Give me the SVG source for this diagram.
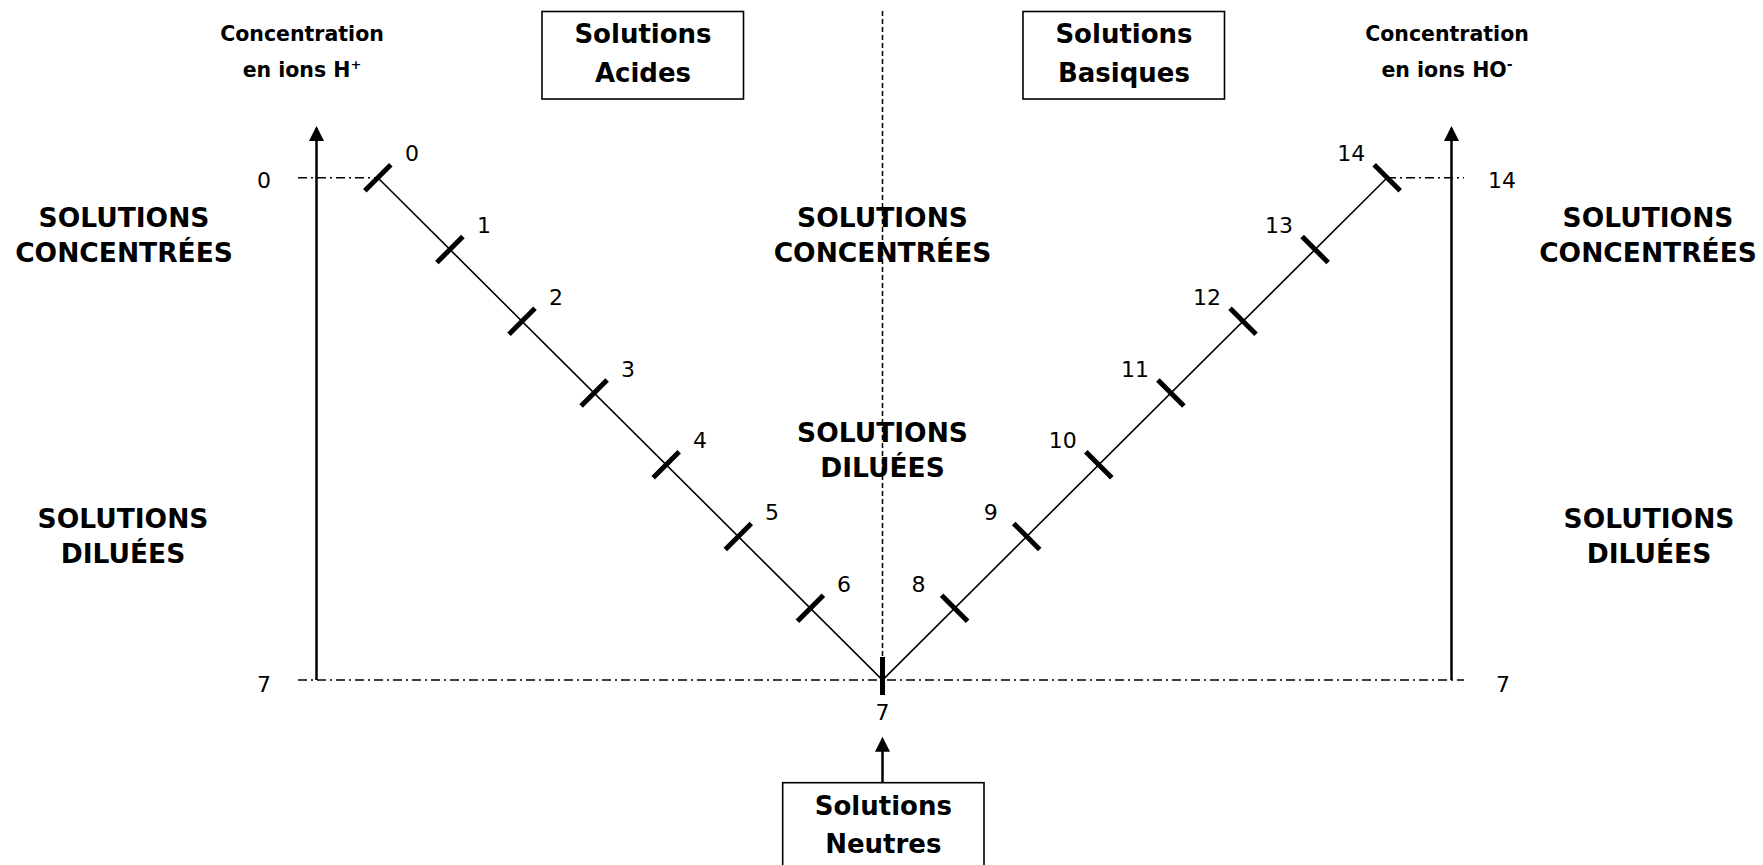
<svg xmlns="http://www.w3.org/2000/svg" width="1763" height="865" viewBox="0 0 1763 865">
<style>
.big{font-family:"DejaVu Sans","Liberation Sans",sans-serif;font-weight:bold;font-size:26px;text-anchor:middle;fill:#000}
.cap{font-family:"DejaVu Sans","Liberation Sans",sans-serif;font-weight:bold;font-size:26.5px;text-anchor:middle;fill:#000}
.ax{font-family:"DejaVu Sans","Liberation Sans",sans-serif;font-weight:bold;font-size:20.5px;text-anchor:middle;fill:#000}
.num{font-family:"DejaVu Sans","Liberation Sans",sans-serif;font-size:22px;text-anchor:middle;fill:#000}
.box{fill:#fff;stroke:#000;stroke-width:1.6}
.axis{stroke:#000;stroke-width:2.5;fill:none}
.diag{stroke:#000;stroke-width:1.6;fill:none}
.tick{stroke:#000;stroke-width:5;fill:none}
.dd{stroke:#000;stroke-width:1.5;stroke-dasharray:9 4 2 4;fill:none}
.dash{stroke:#000;stroke-width:1.5;stroke-dasharray:5 3;fill:none}
</style>
<defs>
<marker id="ah" markerWidth="6" markerHeight="6" refX="5" refY="3" orient="auto" markerUnits="strokeWidth">
<path d="M0,0 L6,3 L0,6 Z" fill="#000"/>
</marker>
</defs>
<rect width="1763" height="865" fill="#fff"/>

<g id="connectors">
<line class="dash" x1="882.5" y1="11" x2="882.5" y2="657"/>
<line class="dd" x1="298" y1="177.7" x2="378" y2="177.7"/>
<line class="dd" x1="1387" y1="177.7" x2="1464" y2="177.7"/>
<line class="dd" x1="298" y1="680" x2="1464" y2="680"/>
<line class="axis" x1="316.5" y1="680" x2="316.5" y2="128.5" marker-end="url(#ah)"/>
<line class="axis" x1="1451.5" y1="680" x2="1451.5" y2="128.5" marker-end="url(#ah)"/>
<line class="axis" x1="882.5" y1="782.7" x2="882.5" y2="739.2" marker-end="url(#ah)"/>
<polyline class="diag" points="377.8,177.7 882.5,680 1387.2,177.7"/>
</g>

<g id="ticks">
<line class="tick" x1="364.8" y1="190.7" x2="390.8" y2="164.7"/>
<line class="tick" x1="436.9" y1="262.5" x2="462.9" y2="236.5"/>
<line class="tick" x1="509" y1="334.2" x2="535" y2="308.2"/>
<line class="tick" x1="581.1" y1="406" x2="607.1" y2="380"/>
<line class="tick" x1="653.2" y1="477.7" x2="679.2" y2="451.7"/>
<line class="tick" x1="725.3" y1="549.5" x2="751.3" y2="523.5"/>
<line class="tick" x1="797.4" y1="621.2" x2="823.4" y2="595.2"/>
<line class="tick" x1="882.5" y1="657" x2="882.5" y2="695"/>
<line class="tick" x1="941.6" y1="595.2" x2="967.6" y2="621.2"/>
<line class="tick" x1="1013.7" y1="523.5" x2="1039.7" y2="549.5"/>
<line class="tick" x1="1085.8" y1="451.7" x2="1111.8" y2="477.7"/>
<line class="tick" x1="1157.9" y1="380" x2="1183.9" y2="406"/>
<line class="tick" x1="1230" y1="308.2" x2="1256" y2="334.2"/>
<line class="tick" x1="1302.1" y1="236.5" x2="1328.1" y2="262.5"/>
<line class="tick" x1="1374.2" y1="164.7" x2="1400.2" y2="190.7"/>
</g>

<g id="tick-labels">
<text class="num" x="412" y="161">0</text>
<text class="num" x="484" y="233">1</text>
<text class="num" x="556" y="305">2</text>
<text class="num" x="628" y="377">3</text>
<text class="num" x="700" y="448">4</text>
<text class="num" x="772" y="520">5</text>
<text class="num" x="844" y="592">6</text>
<text class="num" x="882.5" y="720">7</text>
<text class="num" x="918.6" y="592">8</text>
<text class="num" x="990.7" y="520">9</text>
<text class="num" x="1062.8" y="448">10</text>
<text class="num" x="1134.9" y="377">11</text>
<text class="num" x="1207" y="305">12</text>
<text class="num" x="1279.1" y="233">13</text>
<text class="num" x="1351.2" y="161">14</text>
</g>

<g id="axis-left">
<text class="ax" x="302" y="41">Concentration</text>
<text class="ax" x="302" y="77">en ions H<tspan font-size="13" dy="-8">+</tspan></text>
<text class="num" x="264" y="188">0</text>
<text class="num" x="264" y="692">7</text>
</g>

<g id="axis-right">
<text class="ax" x="1447" y="41">Concentration</text>
<text class="ax" x="1447" y="77">en ions HO<tspan font-size="14" dy="-8">-</tspan></text>
<text class="num" x="1502" y="188">14</text>
<text class="num" x="1503" y="692">7</text>
</g>

<g id="box-acides">
<rect class="box" x="542" y="11.5" width="201.5" height="87.5"/>
<text class="big" x="643" y="43">Solutions</text>
<text class="big" x="643" y="82">Acides</text>
</g>

<g id="box-basiques">
<rect class="box" x="1023" y="11.5" width="201.5" height="87.5"/>
<text class="big" x="1124" y="43">Solutions</text>
<text class="big" x="1124" y="82">Basiques</text>
</g>

<g id="box-neutres">
<rect class="box" x="782.7" y="782.7" width="201.3" height="100"/>
<text class="big" x="883.3" y="815">Solutions</text>
<text class="big" x="883.3" y="853">Neutres</text>
</g>

<g id="label-left-conc">
<text class="cap" x="124" y="226.7">SOLUTIONS</text>
<text class="cap" x="124" y="261.7">CONCENTRÉES</text>
</g>
<g id="label-left-dil">
<text class="cap" x="123" y="528.3">SOLUTIONS</text>
<text class="cap" x="123" y="563.3">DILUÉES</text>
</g>
<g id="label-mid-conc">
<text class="cap" x="882.5" y="226.7">SOLUTIONS</text>
<text class="cap" x="882.5" y="261.7">CONCENTRÉES</text>
</g>
<g id="label-mid-dil">
<text class="cap" x="882.5" y="442">SOLUTIONS</text>
<text class="cap" x="882.5" y="476.5">DILUÉES</text>
</g>
<g id="label-right-conc">
<text class="cap" x="1648" y="226.7">SOLUTIONS</text>
<text class="cap" x="1648" y="261.7">CONCENTRÉES</text>
</g>
<g id="label-right-dil">
<text class="cap" x="1649" y="528.3">SOLUTIONS</text>
<text class="cap" x="1649" y="563.3">DILUÉES</text>
</g>
</svg>
